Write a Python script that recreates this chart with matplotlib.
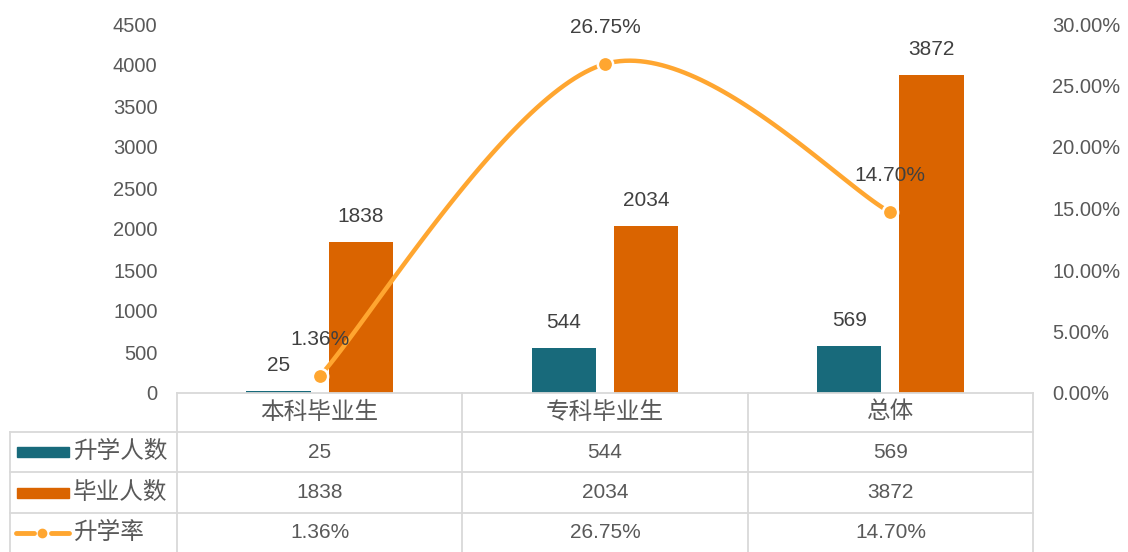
import numpy as np
import matplotlib
matplotlib.use("Agg")
import matplotlib.pyplot as plt
from matplotlib.lines import Line2D
from matplotlib.patches import Rectangle

plt.rcParams['font.family'] = ['Liberation Sans', 'Noto Sans CJK SC', 'DejaVu Sans']

categories = ["本科毕业生", "专科毕业生", "总体"]
enrolled = [25, 544, 569]          # 升学人数
graduates = [1838, 2034, 3872]     # 毕业人数
rate = [1.36, 26.75, 14.70]        # 升学率 (%)
series_names = ["升学人数", "毕业人数", "升学率"]

C_TEAL, C_ORANGE, C_LINE = "#186A7B", "#DA6400", "#FFA630"
C_TICK, C_LABEL, C_GRID = "#595959", "#404040", "#D9D9D9"

W, H = 1128, 552
fig = plt.figure(figsize=(W / 100, H / 100), dpi=100)

def fx(px): return px / W
def fy(py): return 1 - py / H

X0, X1, Y0, Y1 = 177, 1033, 393, 24
ax = fig.add_axes([fx(X0), fy(Y0), fx(X1) - fx(X0), fy(Y1) - fy(Y0)])
ax2 = ax.twinx()

x = np.arange(len(categories))
bw = 0.225
ax.bar(x - 0.144, enrolled, bw, color=C_TEAL)
ax.bar(x + 0.144, graduates, bw, color=C_ORANGE)
for xi, v in zip(x, enrolled):
    ax.text(xi - 0.144, v + 200, f"{v}", ha="center", va="bottom", fontsize=15, color=C_LABEL)
for xi, v in zip(x, graduates):
    ax.text(xi + 0.144, v + 200, f"{v}", ha="center", va="bottom", fontsize=15, color=C_LABEL)

ax.set_xlim(-0.5, 2.5)
ax.set_ylim(0, 4500)
ax.set_yticks(range(0, 4501, 500))
ax2.set_ylim(0, 30)
ax2.set_yticks(range(0, 31, 5))
ax2.set_yticklabels([f"{t:.2f}%" for t in range(0, 31, 5)])
for a in (ax, ax2):
    a.tick_params(length=0, labelsize=14.5, colors=C_TICK, pad=14)
    for s in a.spines.values():
        s.set_visible(False)
ax.set_xticks([])

# smoothed line (bezier through points, Excel-style)
P = np.column_stack([x, rate]).astype(float)
pts = []
for i in range(len(P) - 1):
    p0 = P[i - 1] if i > 0 else P[i]
    p3 = P[i + 2] if i + 2 < len(P) else P[i + 1]
    c1 = P[i] + (P[i + 1] - p0) / 6
    c2 = P[i + 1] - (p3 - P[i]) / 6
    t = np.linspace(0, 1, 60)[:, None]
    seg = ((1 - t) ** 3) * P[i] + 3 * ((1 - t) ** 2) * t * c1 + 3 * (1 - t) * t ** 2 * c2 + t ** 3 * P[i + 1]
    pts.append(seg)
curve = np.vstack(pts)
ax2.plot(curve[:, 0], curve[:, 1], color=C_LINE, lw=3.2, solid_capstyle="round", zorder=3)
ax2.plot(x, rate, "o", ms=11, color=C_LINE, mec="white", mew=1.8, zorder=4)
for xi, v in zip(x, rate):
    ax2.text(xi, v + 2.2, f"{v:.2f}%", ha="center", va="bottom", fontsize=15, color=C_LABEL)

# data table
def hline(py, xa, xb):
    fig.add_artist(Line2D([fx(xa), fx(xb)], [fy(py), fy(py)], color=C_GRID, lw=1.3))
def vline(px, ya, yb):
    fig.add_artist(Line2D([fx(px), fx(px)], [fy(ya), fy(yb)], color=C_GRID, lw=1.3))

cols = [177, 462, 748, 1033]
rows = [393, 432, 472, 513, 552]
hline(393, 177, 1033)
for r in rows[1:4]:
    hline(r, 10, 1033)
for c in cols:
    vline(c, 393, 552)
vline(10, 432, 552)

for j, cat in enumerate(categories):
    cx = (cols[j] + cols[j + 1]) / 2
    fig.text(fx(cx), fy((rows[0] + rows[1]) / 2), cat, ha="center", va="center", fontsize=17, color=C_TICK)
    vals = [f"{enrolled[j]}", f"{graduates[j]}", f"{rate[j]:.2f}%"]
    for k, v in enumerate(vals):
        fig.text(fx(cx), fy((rows[k + 1] + rows[k + 2]) / 2), v, ha="center", va="center",
                 fontsize=15, color=C_TICK)

for k, name in enumerate(series_names):
    cy = (rows[k + 1] + rows[k + 2]) / 2
    fig.text(fx(73), fy(cy), name, ha="left", va="center", fontsize=17, color=C_TICK)
    if k < 2:
        fig.add_artist(Rectangle((fx(17), fy(cy + 5)), fx(69) - fx(17), fy(cy - 5) - fy(cy + 5),
                                 color=[C_TEAL, C_ORANGE][k]))
    else:
        fig.add_artist(Line2D([fx(16), fx(34)], [fy(cy), fy(cy)], color=C_LINE, lw=3.5, solid_capstyle="round"))
        fig.add_artist(Line2D([fx(51), fx(69)], [fy(cy), fy(cy)], color=C_LINE, lw=3.5, solid_capstyle="round"))
        fig.add_artist(Line2D([fx(42)], [fy(cy)], marker="o", ms=6, color=C_LINE))

fig.savefig("out.png", dpi=100)
